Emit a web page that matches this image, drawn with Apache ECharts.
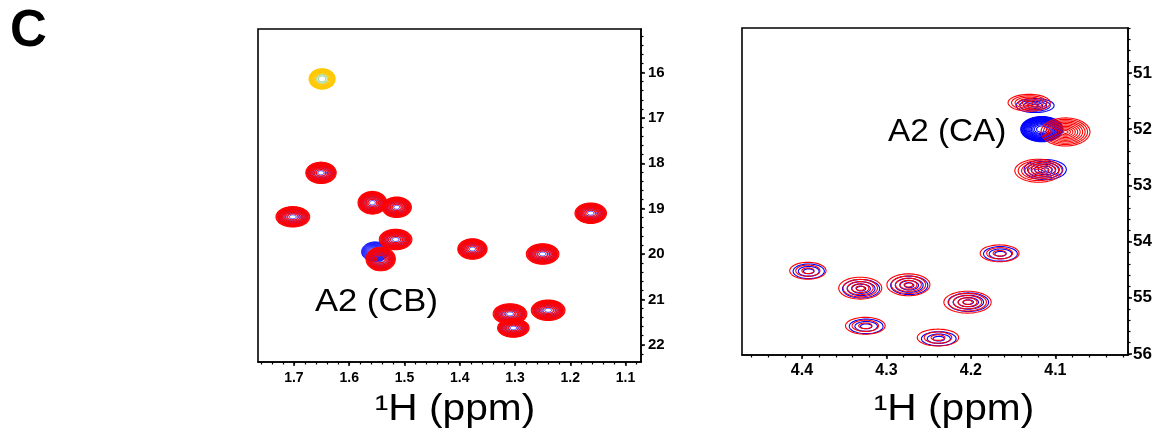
<!DOCTYPE html>
<html><head><meta charset="utf-8">
<script src="https://cdn.jsdelivr.net/npm/echarts@6/dist/echarts.min.js"></script>
<style>html,body{margin:0;padding:0;background:#fff}#c{width:1158px;height:431px}</style>
</head><body><div id="c"></div>
<script>
// ---------- Left panel: A2 (CB) ----------
const cbXTicks = [1.7, 1.6, 1.5, 1.4, 1.3, 1.2, 1.1];
const cbYTicks = [16, 17, 18, 19, 20, 21, 22];
// red spectrum peaks (1H ppm, 13C ppm, widths in ppm, contour levels)
const cbRedX = [1.651, 1.558, 1.514, 1.702, 1.163, 1.516, 1.543, 1.377, 1.250, 1.309, 1.303, 1.240];
const cbRedY = [18.21, 18.87, 18.97, 19.18, 19.10, 19.68, 20.11, 19.89, 20.00, 21.32, 21.63, 21.24];
const cbRedW = [0.055, 0.052, 0.053, 0.061, 0.057, 0.059, 0.053, 0.053, 0.059, 0.061, 0.057, 0.061];
const cbRedH = [0.47, 0.50, 0.45, 0.45, 0.45, 0.45, 0.52, 0.45, 0.45, 0.45, 0.41, 0.45];
const cbRedN = [11, 11, 11, 11, 11, 11, 11, 11, 11, 11, 11, 11];
// blue spectrum peaks
const cbBlueX = [1.651, 1.558, 1.514, 1.702, 1.163, 1.516, 1.543, 1.377, 1.250, 1.309, 1.303, 1.240, 1.553];
const cbBlueY = [18.21, 18.87, 18.97, 19.18, 19.10, 19.68, 20.11, 19.89, 20.00, 21.32, 21.63, 21.24, 19.95];
const cbBlueW = [0.050, 0.047, 0.048, 0.055, 0.052, 0.053, 0.048, 0.048, 0.053, 0.055, 0.052, 0.055, 0.050];
const cbBlueH = [0.42, 0.45, 0.40, 0.40, 0.40, 0.40, 0.46, 0.40, 0.40, 0.40, 0.37, 0.40, 0.44];
const cbBlueN = [10, 10, 10, 10, 10, 10, 10, 10, 10, 10, 10, 10, 16];
// yellow peak
const cbYelX = [1.649];
const cbYelY = [16.14];
const cbYelW = [0.047];
const cbYelH = [0.45];
const cbYelN = [12];

// ---------- Right panel: A2 (CA) ----------
const caXTicks = [4.4, 4.3, 4.2, 4.1];
const caYTicks = [51, 52, 53, 54, 55, 56];
const caRedX = [4.131, 4.088, 4.120, 4.393, 4.331, 4.274, 4.204, 4.325, 4.239, 4.166];
const caRedY = [51.53, 52.05, 52.74, 54.52, 54.83, 54.77, 55.08, 55.50, 55.71, 54.21];
const caRedW = [0.050, 0.058, 0.056, 0.043, 0.051, 0.051, 0.056, 0.047, 0.049, 0.046];
const caRedH = [0.30, 0.50, 0.41, 0.30, 0.39, 0.39, 0.39, 0.30, 0.30, 0.30];
const caRedN = [6, 10, 7, 3, 5, 5, 5, 3, 3, 3];
const caBlueX = [4.124, 4.116, 4.112, 4.392, 4.330, 4.273, 4.203, 4.324, 4.238, 4.165];
const caBlueY = [51.58, 52.00, 52.72, 54.53, 54.84, 54.78, 55.08, 55.51, 55.73, 54.22];
const caBlueW = [0.045, 0.050, 0.050, 0.037, 0.044, 0.044, 0.048, 0.040, 0.041, 0.040];
const caBlueH = [0.25, 0.45, 0.36, 0.26, 0.33, 0.33, 0.33, 0.26, 0.25, 0.26];
const caBlueN = [5, 16, 6, 3, 4, 4, 4, 3, 3, 3];

function steps(a, b, s) { const out = []; for (let v = a; v <= b + 1e-9; v += s) out.push(+v.toFixed(3)); return out; }

function ring(cx, cy, rx, ry) {
  const pts = [];
  for (let i = 0; i < 56; i++) {
    const a = i / 56 * Math.PI * 2;
    pts.push([cx + rx * Math.cos(a), cy + ry * Math.sin(a)]);
  }
  return pts;
}

function contour(xi, xs, ys, ws, hs, ns, opt) {
  const data = xs.map((x, i) => [x, ys[i], ws[i], hs[i], ns[i]]);
  return {
    type: 'custom', xAxisIndex: xi, yAxisIndex: xi, data: data, clip: true, z: opt.z || 2,
    silent: true, animation: false,
    renderItem: function (params, api) {
      const cx = api.value(0), cy = api.value(1);
      const c = api.coord([cx, cy]);
      const s = api.size([api.value(2), api.value(3)], [cx, cy]);
      const n = api.value(4);
      const sqrtMode = opt.mode === 'sqrt' || n >= 12;
      const children = [];
      for (let k = 0; k < n; k++) {
        const t = (k + opt.off) / n;
        const f = sqrtMode ? Math.sqrt(1 - t) : 1 - t;
        if (f <= 0.05) continue;
        const col = (opt.inner && f < opt.innerF) ? opt.inner : opt.color;
        children.push({
          type: 'polygon',
          shape: { points: ring(c[0], c[1], s[0] / 2 * f, s[1] / 2 * f) },
          style: { fill: null, stroke: col, lineWidth: opt.lw }
        });
      }
      return { type: 'group', children: children };
    }
  };
}

const lblFont = 'Liberation Sans, Arial, sans-serif';

function xAxes(grid, min, max, ticks, minor, fs, margin) {
  return [
    { gridIndex: grid, type: 'value', position: 'bottom', inverse: true, min: min, max: max,
      axisLine: { show: true, lineStyle: { color: '#000', width: 1.6 } },
      axisTick: { show: true, customValues: ticks, length: 4, lineStyle: { color: '#000', width: 1.5 } },
      axisLabel: { customValues: ticks, formatter: v => v.toFixed(1), color: '#000', fontWeight: 'bold',
        fontSize: fs, fontFamily: lblFont, margin: margin },
      splitLine: { show: false } },
    { gridIndex: grid, type: 'value', position: 'bottom', inverse: true, min: min, max: max,
      axisLine: { show: false },
      axisTick: { show: true, customValues: minor, length: 2.5, lineStyle: { color: '#000', width: 1.2 } },
      axisLabel: { show: false }, splitLine: { show: false } }
  ];
}
function yAxes(grid, min, max, ticks, minor, fs, margin) {
  return [
    { gridIndex: grid, type: 'value', position: 'right', inverse: true, min: min, max: max,
      axisLine: { show: true, lineStyle: { color: '#000', width: 1.6 } },
      axisTick: { show: true, customValues: ticks, length: 4, lineStyle: { color: '#000', width: 1.5 } },
      axisLabel: { customValues: ticks, formatter: v => String(v), color: '#000', fontWeight: 'bold',
        fontSize: fs, fontFamily: lblFont, margin: margin },
      splitLine: { show: false } },
    { gridIndex: grid, type: 'value', position: 'right', inverse: true, min: min, max: max,
      axisLine: { show: false },
      axisTick: { show: true, customValues: minor, length: 2.5, lineStyle: { color: '#000', width: 1.2 } },
      axisLabel: { show: false }, splitLine: { show: false } }
  ];
}

const chart = echarts.init(document.getElementById('c'), null, { renderer: 'canvas' });
const titleStyle = { fill: '#000', fontFamily: lblFont, fontSize: 36, align: 'center', verticalAlign: 'middle' };
chart.setOption({
  animation: false,
  backgroundColor: '#fff',
  grid: [
    { left: 258, top: 29, width: 383, height: 333, show: true, borderColor: '#000', borderWidth: 1.6, backgroundColor: 'transparent' },
    { left: 742, top: 28, width: 386, height: 327, show: true, borderColor: '#000', borderWidth: 1.6, backgroundColor: 'transparent' }
  ],
  xAxis: [].concat(
    xAxes(0, 1.072, 1.765, cbXTicks, steps(1.08, 1.76, 0.02), 14, 9),
    xAxes(1, 4.014, 4.471, caXTicks, steps(4.02, 4.46, 0.02), 16, 8)
  ),
  yAxis: [].concat(
    yAxes(0, 15.04, 22.38, cbYTicks, steps(15.2, 22.2, 0.2), 15, 7),
    yAxes(1, 50.2, 56.02, caYTicks, steps(50.2, 56.0, 0.2), 17, 5)
  ),
  series: [
    contour(0, cbBlueX, cbBlueY, cbBlueW, cbBlueH, cbBlueN, { mode: 'sqrt', off: 0.5, color: '#2020ff', lw: 1, z: 2 }),
    contour(0, cbRedX, cbRedY, cbRedW, cbRedH, cbRedN, { mode: 'sqrt', off: 0, color: '#ff0000', lw: 1.1, z: 3 }),
    contour(0, cbYelX, cbYelY, cbYelW, cbYelH, cbYelN, { mode: 'sqrt', off: 0, color: '#ffc800', inner: '#a8d8a0', innerF: 0.5, lw: 1.1, z: 3 }),
    contour(2, caBlueX, caBlueY, caBlueW, caBlueH, caBlueN, { mode: 'lin', off: 0, color: '#0000ff', lw: 1.1, z: 2 }),
    contour(2, caRedX, caRedY, caRedW, caRedH, caRedN, { mode: 'lin', off: 0, color: '#ff0000', lw: 1.1, z: 3 })
  ],
  graphic: [
    { type: 'text', x: 10, y: 32, style: { text: 'C', fill: '#000', fontFamily: lblFont, fontWeight: 'bold', fontSize: 51, align: 'left', verticalAlign: 'middle' } },
    { type: 'text', x: 315, y: 302, scaleX: 1.08, style: { text: 'A2 (CB)', fill: '#000', fontFamily: lblFont, fontSize: 32, align: 'left', verticalAlign: 'middle' } },
    { type: 'text', x: 888, y: 132, scaleX: 1.04, style: { text: 'A2 (CA)', fill: '#000', fontFamily: lblFont, fontSize: 32, align: 'left', verticalAlign: 'middle' } },
    { type: 'text', x: 455, y: 410, scaleX: 1.13, style: Object.assign({ text: '¹H (ppm)' }, titleStyle) },
    { type: 'text', x: 954, y: 410, scaleX: 1.13, style: Object.assign({ text: '¹H (ppm)' }, titleStyle) }
  ]
});
</script>
</body></html>
